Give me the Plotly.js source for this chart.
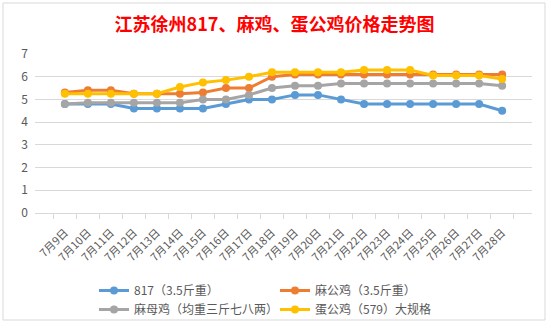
<!DOCTYPE html>
<html>
<head>
<meta charset="utf-8">
<script src="https://cdn.plot.ly/plotly-3.0.1.min.js"></script>
<style>html,body{margin:0;padding:0;background:#fff;}#chart{width:549px;height:325px;}</style>
</head>
<body>
<div id="chart"></div>
<script>
const days = ["7月9日","7月10日","7月11日","7月12日","7月13日","7月14日","7月15日","7月16日","7月17日","7月18日","7月19日","7月20日","7月21日","7月22日","7月23日","7月24日","7月25日","7月26日","7月27日","7月28日"];
const s817 = [4.8,4.8,4.8,4.6,4.6,4.6,4.6,4.8,5.0,5.0,5.2,5.2,5.0,4.8,4.8,4.8,4.8,4.8,4.8,4.5];
const maGong = [5.3,5.4,5.4,5.25,5.25,5.25,5.3,5.5,5.5,6.0,6.1,6.1,6.1,6.1,6.1,6.1,6.1,6.1,6.1,6.1];
const maMu = [4.8,4.85,4.85,4.85,4.85,4.85,5.0,5.0,5.2,5.5,5.6,5.6,5.7,5.7,5.7,5.7,5.7,5.7,5.7,5.6];
const danGong = [5.25,5.25,5.25,5.25,5.25,5.55,5.75,5.85,6.0,6.2,6.2,6.2,6.2,6.3,6.3,6.3,6.05,6.05,6.05,5.9];
const names = ["817（3.5斤重）","麻公鸡（3.5斤重）","麻母鸡（均重三斤七八两）","蛋公鸡（579）大规格"];
const colors = ["#5B9BD5","#ED7D31","#A5A5A5","#FFC000"];
const series = [s817, maGong, maMu, danGong];
const legendOf = ["legend","legend2","legend","legend2"];
const font = '"Noto Sans CJK SC", "Noto Sans", sans-serif';

const traces = series.map((v,i)=>({
  type:'scatter', mode:'lines+markers', x:days, y:v, name:names[i],
  line:{color:colors[i], width:3}, marker:{color:colors[i], size:8},
  legend: legendOf[i]
}));

const L=35, R=17, T=54, B=112, W=549, H=325;
const pw = W-L-R, ph = H-T-B;
const px2x = x => (x-L)/pw;
const px2y = y => (H-B-y)/ph;

const layout = {
  width:W, height:H,
  margin:{l:L, r:R, t:T, b:B, autoexpand:false},
  paper_bgcolor:'#fff', plot_bgcolor:'#fff',
  font:{family:font, color:'#595959', size:11},
  title:{text:'江苏徐州817、麻鸡、蛋公鸡价格走势图', font:{family:font, size:18, color:'#FF0000', weight:'bold'}, x:0.5, xanchor:'center', y:0.925, yanchor:'middle'},
  xaxis:{type:'category', tickangle:-45, showgrid:false, showline:true, linecolor:'#D9D9D9', linewidth:1,
         ticks:'outside', tickson:'boundaries', ticklen:5, tickcolor:'#D9D9D9', tickfont:{size:11, color:'#595959'}, ticklabelstandoff:8},
  yaxis:{range:[0,7], dtick:1, showgrid:true, gridcolor:'#D9D9D9', zeroline:false, showline:false, ticks:'',
         tickfont:{size:12, color:'#595959'}, ticklabelstandoff:6},
  legend:{x:px2x(94), xanchor:'left', y:px2y(276), yanchor:'top', orientation:'v', bgcolor:'rgba(0,0,0,0)', font:{size:12, color:'#595959'}, tracegroupgap:0, itemwidth:30},
  legend2:{x:px2x(275), xanchor:'left', y:px2y(276), yanchor:'top', orientation:'v', bgcolor:'rgba(0,0,0,0)', font:{size:12, color:'#595959'}, tracegroupgap:0, itemwidth:30},
  shapes:[{type:'rect', xref:'paper', yref:'paper', x0:px2x(3), x1:px2x(545), y0:px2y(320), y1:px2y(3), line:{width:1, color:'#D9D9D9'}, layer:'below'}]
};
Plotly.newPlot('chart', traces, layout, {staticPlot:true, displayModeBar:false});
</script>
</body>
</html>
